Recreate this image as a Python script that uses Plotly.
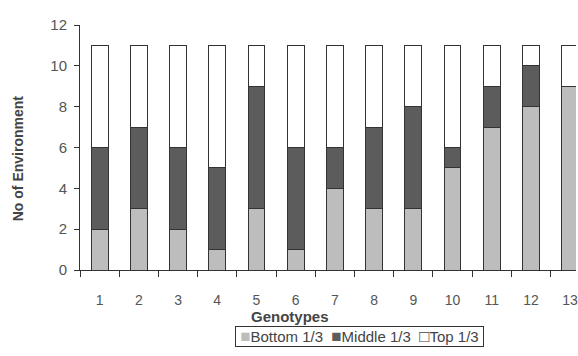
import plotly.graph_objects as go

genotypes = [str(i) for i in range(1, 14)]
bottom = [2, 3, 2, 1, 3, 1, 4, 3, 3, 5, 7, 8, 9]
middle = [4, 4, 4, 4, 6, 5, 2, 4, 5, 1, 2, 2, 0]
top = [5, 4, 5, 6, 2, 5, 5, 4, 3, 5, 2, 1, 2]
series_names = ["Bottom 1/3", "Middle 1/3", "Top 1/3"]
series_colors = ["#bdbdbd", "#5c5c5c", "#ffffff"]
y_ticks = [0, 2, 4, 6, 8, 10, 12]

font_family = "Liberation Sans, Arial, sans-serif"
line_col = "#333333"

fig = go.Figure()
for vals, name, col in zip([bottom, middle, top], series_names, series_colors):
    fig.add_bar(x=genotypes, y=vals, name=name, showlegend=False,
                marker=dict(color=col, line=dict(color=line_col, width=1)))

# compact boxed legend, built from the series names/colours
parts = []
for name, col in zip(series_names, series_colors):
    if col.lower() == "#ffffff":
        sym = '<span style="color:#444444;font-size:17px">□</span>'
    else:
        sym = f'<span style="color:{col};font-size:17px">■</span>'
    parts.append(sym + name)
legend_text = "&nbsp;" + " &nbsp;".join(parts) + "&nbsp;"

x0 = -0.5
x1 = 12.15
plot_w = 578 - 80

fig.update_layout(
    barmode="stack",
    bargap=0.57,
    width=578, height=356,
    margin=dict(l=80, r=0, t=25, b=86),
    paper_bgcolor="white", plot_bgcolor="white",
    font=dict(family=font_family, color="#555555", size=14),
    xaxis=dict(type="category", range=[x0, x1], showline=True, linecolor=line_col,
               linewidth=1, ticks="outside", tickson="boundaries", ticklen=6,
               tickcolor=line_col, showgrid=False, ticklabelstandoff=17,
               tickfont=dict(size=14, color="#555555")),
    yaxis=dict(range=[0, 12], tickvals=y_ticks, showline=True, linecolor=line_col,
               linewidth=1, ticks="outside", ticklen=5, tickcolor=line_col,
               showgrid=False, zeroline=False, ticklabelstandoff=4,
               tickfont=dict(size=15, color="#555555")),
    annotations=[
        dict(text="<b>Genotypes</b>", xref="paper", yref="paper",
             x=(291 - 80) / plot_w, y=(270 - 316) / 245, showarrow=False,
             xanchor="center", yanchor="middle", font=dict(size=15, color="#444444")),
        dict(text="<b>No of Environment</b>", xref="paper", yref="paper",
             x=(18 - 80) / plot_w, y=(270 - 158) / 245, showarrow=False, textangle=-90,
             xanchor="center", yanchor="middle", font=dict(size=14, color="#444444")),
        dict(text=legend_text, xref="paper", yref="paper",
             x=(361 - 80) / plot_w, y=(270 - 336.5) / 245, showarrow=False,
             xanchor="center", yanchor="middle", bordercolor=line_col, borderwidth=1,
             borderpad=0, font=dict(size=15, color="#444444")),
    ],
)

fig.write_html("out.html")
